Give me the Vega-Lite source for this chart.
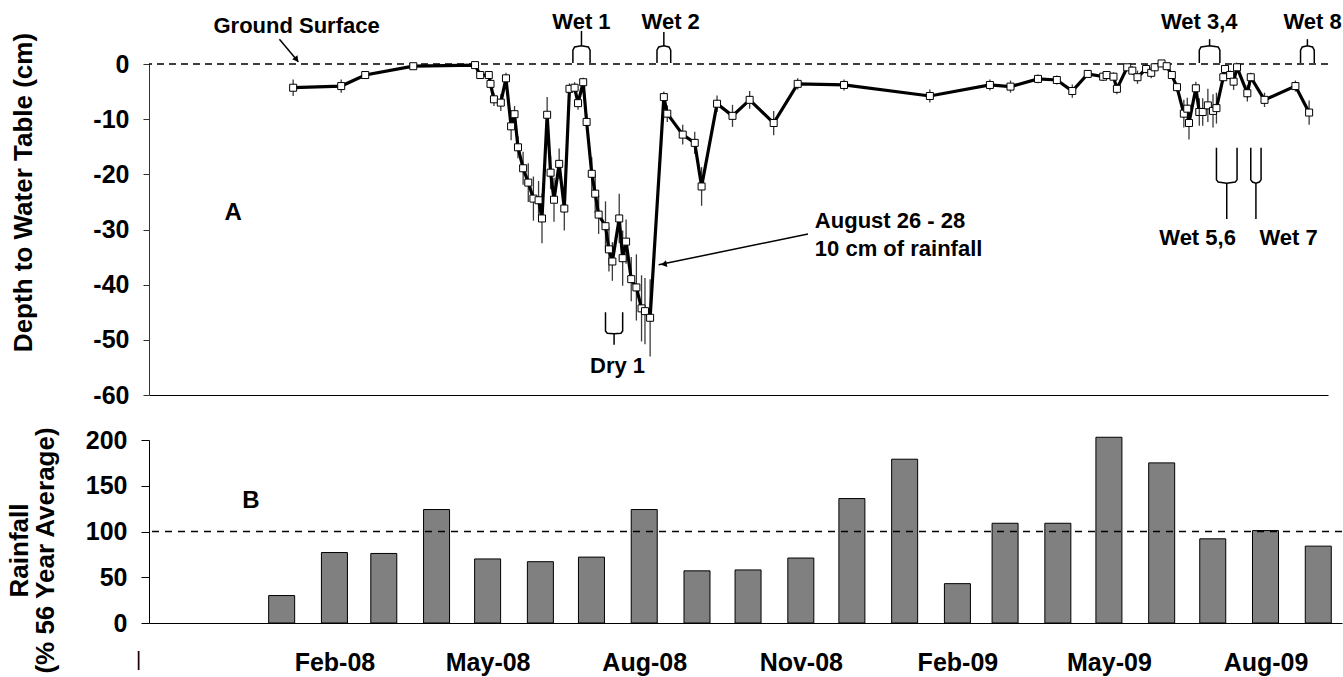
{
  "$schema": "https://vega.github.io/schema/vega-lite/v6.json",
  "autosize": {"type": "none"},
  "padding": {"left": 149, "top": 64, "right": 1194, "bottom": 613},
  "background": "white",
  "bounds": "flush",
  "spacing": 45,
  "config": {"view": {"stroke": null}, "font": "Liberation Sans"},
  "datasets": {
    "wt": [
      {"date": "2008-01-24", "depth": -4.3, "err": 1.5},
      {"date": "2008-02-21", "depth": -4.0, "err": 1.2},
      {"date": "2008-03-06", "depth": -2.0, "err": 0.6},
      {"date": "2008-04-03", "depth": -0.4, "err": 0.4},
      {"date": "2008-05-09", "depth": -0.2, "err": 0.4},
      {"date": "2008-05-12", "depth": -2.0, "err": 0.5},
      {"date": "2008-05-17", "depth": -2.0, "err": 0.6},
      {"date": "2008-05-18", "depth": -3.6, "err": 0.8},
      {"date": "2008-05-20", "depth": -6.4, "err": 1.2},
      {"date": "2008-05-24", "depth": -7.0, "err": 1.5},
      {"date": "2008-05-27", "depth": -2.6, "err": 1.0},
      {"date": "2008-05-30", "depth": -11.3, "err": 2.5},
      {"date": "2008-06-01", "depth": -9.1, "err": 1.5},
      {"date": "2008-06-03", "depth": -15.1, "err": 2.0},
      {"date": "2008-06-06", "depth": -18.9, "err": 3.0},
      {"date": "2008-06-09", "depth": -21.5, "err": 3.5},
      {"date": "2008-06-12", "depth": -24.4, "err": 4.0},
      {"date": "2008-06-15", "depth": -24.7, "err": 3.5},
      {"date": "2008-06-17", "depth": -28.0, "err": 4.5},
      {"date": "2008-06-20", "depth": -9.2, "err": 3.2},
      {"date": "2008-06-22", "depth": -19.7, "err": 3.0},
      {"date": "2008-06-24", "depth": -24.6, "err": 4.0},
      {"date": "2008-06-27", "depth": -18.1, "err": 2.8},
      {"date": "2008-06-30", "depth": -26.2, "err": 4.0},
      {"date": "2008-07-03", "depth": -4.5, "err": 1.0},
      {"date": "2008-07-06", "depth": -4.3, "err": 1.0},
      {"date": "2008-07-08", "depth": -7.1, "err": 1.2},
      {"date": "2008-07-11", "depth": -3.3, "err": 0.8},
      {"date": "2008-07-13", "depth": -10.5, "err": 1.5},
      {"date": "2008-07-16", "depth": -19.9, "err": 3.0},
      {"date": "2008-07-18", "depth": -23.5, "err": 3.5},
      {"date": "2008-07-20", "depth": -27.3, "err": 3.5},
      {"date": "2008-07-24", "depth": -29.4, "err": 4.5},
      {"date": "2008-07-26", "depth": -33.6, "err": 4.0},
      {"date": "2008-07-28", "depth": -35.8, "err": 3.5},
      {"date": "2008-08-01", "depth": -28.0, "err": 4.5},
      {"date": "2008-08-03", "depth": -35.2, "err": 5.0},
      {"date": "2008-08-05", "depth": -32.2, "err": 4.0},
      {"date": "2008-08-08", "depth": -39.0, "err": 4.0},
      {"date": "2008-08-11", "depth": -40.5, "err": 6.0},
      {"date": "2008-08-14", "depth": -44.3, "err": 6.0},
      {"date": "2008-08-16", "depth": -44.8, "err": 6.0},
      {"date": "2008-08-19", "depth": -46.0, "err": 7.0},
      {"date": "2008-08-27", "depth": -6.0, "err": 1.0},
      {"date": "2008-08-29", "depth": -9.0, "err": 1.5},
      {"date": "2008-09-07", "depth": -12.8, "err": 1.8},
      {"date": "2008-09-14", "depth": -14.3, "err": 2.0},
      {"date": "2008-09-18", "depth": -22.2, "err": 3.5},
      {"date": "2008-09-27", "depth": -7.2, "err": 1.5},
      {"date": "2008-10-06", "depth": -9.4, "err": 2.0},
      {"date": "2008-10-16", "depth": -6.5, "err": 1.6},
      {"date": "2008-10-30", "depth": -10.7, "err": 2.2},
      {"date": "2008-11-13", "depth": -3.6, "err": 1.0},
      {"date": "2008-12-10", "depth": -3.8, "err": 1.0},
      {"date": "2009-01-29", "depth": -5.8, "err": 1.2},
      {"date": "2009-03-05", "depth": -3.8, "err": 1.0},
      {"date": "2009-03-17", "depth": -4.1, "err": 1.1},
      {"date": "2009-04-02", "depth": -2.7, "err": 0.8},
      {"date": "2009-04-13", "depth": -2.9, "err": 0.8},
      {"date": "2009-04-22", "depth": -4.9, "err": 1.2},
      {"date": "2009-05-01", "depth": -1.8, "err": 0.5},
      {"date": "2009-05-10", "depth": -2.3, "err": 0.8},
      {"date": "2009-05-12", "depth": -2.0, "err": 0.6},
      {"date": "2009-05-16", "depth": -2.3, "err": 0.8},
      {"date": "2009-05-18", "depth": -4.5, "err": 1.0},
      {"date": "2009-05-24", "depth": -0.6, "err": 0.5},
      {"date": "2009-05-27", "depth": -1.2, "err": 0.8},
      {"date": "2009-05-30", "depth": -2.4, "err": 1.2},
      {"date": "2009-06-04", "depth": -0.9, "err": 0.8},
      {"date": "2009-06-07", "depth": -1.6, "err": 1.0},
      {"date": "2009-06-09", "depth": -0.6, "err": 0.5},
      {"date": "2009-06-13", "depth": 0.1, "err": 0.4},
      {"date": "2009-06-16", "depth": -0.4, "err": 0.5},
      {"date": "2009-06-19", "depth": -2.0, "err": 0.6},
      {"date": "2009-06-22", "depth": -4.2, "err": 0.8},
      {"date": "2009-06-26", "depth": -9.0, "err": 2.5},
      {"date": "2009-06-28", "depth": -8.1, "err": 2.0},
      {"date": "2009-06-29", "depth": -10.7, "err": 3.0},
      {"date": "2009-07-03", "depth": -4.4, "err": 1.2},
      {"date": "2009-07-05", "depth": -8.7, "err": 2.5},
      {"date": "2009-07-07", "depth": -8.7, "err": 2.5},
      {"date": "2009-07-10", "depth": -7.5, "err": 3.0},
      {"date": "2009-07-13", "depth": -8.5, "err": 3.0},
      {"date": "2009-07-15", "depth": -8.0, "err": 2.8},
      {"date": "2009-07-19", "depth": -2.4, "err": 0.8},
      {"date": "2009-07-20", "depth": -0.9, "err": 0.5},
      {"date": "2009-07-23", "depth": -2.0, "err": 0.8},
      {"date": "2009-07-25", "depth": -3.2, "err": 1.5},
      {"date": "2009-07-27", "depth": -0.6, "err": 0.5},
      {"date": "2009-08-02", "depth": -5.3, "err": 1.5},
      {"date": "2009-08-04", "depth": -2.4, "err": 0.8},
      {"date": "2009-08-12", "depth": -6.5, "err": 1.3},
      {"date": "2009-08-30", "depth": -4.0, "err": 1.0},
      {"date": "2009-09-07", "depth": -8.8, "err": 2.2}
    ],
    "brk": [
      {"g": "w1", "i": 0, "date": "2008-07-05", "depth": 0.2},
      {"g": "w1", "i": 1, "date": "2008-07-05", "depth": 2.5},
      {"g": "w1", "i": 2, "date": "2008-07-06", "depth": 3.1},
      {"g": "w1", "i": 3, "date": "2008-07-10", "depth": 3.3},
      {"g": "w1", "i": 4, "date": "2008-07-14", "depth": 3.1},
      {"g": "w1", "i": 5, "date": "2008-07-15", "depth": 2.5},
      {"g": "w1", "i": 6, "date": "2008-07-15", "depth": 0.2},
      {"g": "w1s", "i": 0, "date": "2008-07-10", "depth": 3.3},
      {"g": "w1s", "i": 1, "date": "2008-07-10", "depth": 6.0},
      {"g": "w2", "i": 0, "date": "2008-08-23", "depth": 0.2},
      {"g": "w2", "i": 1, "date": "2008-08-23", "depth": 2.5},
      {"g": "w2", "i": 2, "date": "2008-08-24", "depth": 3.1},
      {"g": "w2", "i": 3, "date": "2008-08-27", "depth": 3.3},
      {"g": "w2", "i": 4, "date": "2008-08-30", "depth": 3.1},
      {"g": "w2", "i": 5, "date": "2008-08-31", "depth": 2.5},
      {"g": "w2", "i": 6, "date": "2008-08-31", "depth": 0.2},
      {"g": "w2s", "i": 0, "date": "2008-08-27", "depth": 3.3},
      {"g": "w2s", "i": 1, "date": "2008-08-27", "depth": 5.8},
      {"g": "w34", "i": 0, "date": "2009-07-05", "depth": 0.2},
      {"g": "w34", "i": 1, "date": "2009-07-05", "depth": 2.5},
      {"g": "w34", "i": 2, "date": "2009-07-06", "depth": 3.1},
      {"g": "w34", "i": 3, "date": "2009-07-11", "depth": 3.3},
      {"g": "w34", "i": 4, "date": "2009-07-16", "depth": 3.1},
      {"g": "w34", "i": 5, "date": "2009-07-17", "depth": 2.5},
      {"g": "w34", "i": 6, "date": "2009-07-17", "depth": 0.2},
      {"g": "w34s", "i": 0, "date": "2009-07-11", "depth": 3.3},
      {"g": "w34s", "i": 1, "date": "2009-07-11", "depth": 4.5},
      {"g": "w8", "i": 0, "date": "2009-09-02", "depth": 0.2},
      {"g": "w8", "i": 1, "date": "2009-09-02", "depth": 2.5},
      {"g": "w8", "i": 2, "date": "2009-09-03", "depth": 3.1},
      {"g": "w8", "i": 3, "date": "2009-09-06", "depth": 3.3},
      {"g": "w8", "i": 4, "date": "2009-09-09", "depth": 3.1},
      {"g": "w8", "i": 5, "date": "2009-09-10", "depth": 2.5},
      {"g": "w8", "i": 6, "date": "2009-09-10", "depth": 0.2},
      {"g": "w8s", "i": 0, "date": "2009-09-06", "depth": 3.3},
      {"g": "w8s", "i": 1, "date": "2009-09-06", "depth": 4.5},
      {"g": "w56", "i": 0, "date": "2009-07-15", "depth": -15.2},
      {"g": "w56", "i": 1, "date": "2009-07-15", "depth": -21.0},
      {"g": "w56", "i": 2, "date": "2009-07-16", "depth": -21.4},
      {"g": "w56", "i": 3, "date": "2009-07-21", "depth": -21.6},
      {"g": "w56", "i": 4, "date": "2009-07-26", "depth": -21.4},
      {"g": "w56", "i": 5, "date": "2009-07-27", "depth": -21.0},
      {"g": "w56", "i": 6, "date": "2009-07-27", "depth": -15.2},
      {"g": "w56s", "i": 0, "date": "2009-07-21", "depth": -21.6},
      {"g": "w56s", "i": 1, "date": "2009-07-21", "depth": -28.1},
      {"g": "w7", "i": 0, "date": "2009-08-04", "depth": -15.2},
      {"g": "w7", "i": 1, "date": "2009-08-04", "depth": -21.0},
      {"g": "w7", "i": 2, "date": "2009-08-05", "depth": -21.4},
      {"g": "w7", "i": 3, "date": "2009-08-07", "depth": -21.6},
      {"g": "w7", "i": 4, "date": "2009-08-09", "depth": -21.4},
      {"g": "w7", "i": 5, "date": "2009-08-10", "depth": -21.0},
      {"g": "w7", "i": 6, "date": "2009-08-10", "depth": -15.2},
      {"g": "w7s", "i": 0, "date": "2009-08-07", "depth": -21.6},
      {"g": "w7s", "i": 1, "date": "2009-08-07", "depth": -28.1},
      {"g": "d1", "i": 0, "date": "2008-07-24", "depth": -45.0},
      {"g": "d1", "i": 1, "date": "2008-07-24", "depth": -48.4},
      {"g": "d1", "i": 2, "date": "2008-07-25", "depth": -48.8},
      {"g": "d1", "i": 3, "date": "2008-07-29", "depth": -48.9},
      {"g": "d1", "i": 4, "date": "2008-08-02", "depth": -48.8},
      {"g": "d1", "i": 5, "date": "2008-08-03", "depth": -48.4},
      {"g": "d1", "i": 6, "date": "2008-08-03", "depth": -45.0},
      {"g": "d1s", "i": 0, "date": "2008-07-29", "depth": -48.9},
      {"g": "d1s", "i": 1, "date": "2008-07-29", "depth": -50.9},
      {"g": "gs", "i": 0, "date": "2008-01-16", "depth": 4.5},
      {"g": "gs", "i": 1, "date": "2008-01-27", "depth": 0.4},
      {"g": "aug", "i": 0, "date": "2008-11-19", "depth": -30.8},
      {"g": "aug", "i": 1, "date": "2008-08-24", "depth": -36.4}
    ],
    "txtc": [
      {"label": "Ground Surface", "date": "2008-01-26", "depth": 6.8},
      {"label": "Wet 1", "date": "2008-07-10", "depth": 7.6},
      {"label": "Wet 2", "date": "2008-08-31", "depth": 7.6},
      {"label": "Wet 3,4", "date": "2009-07-05", "depth": 7.6},
      {"label": "Wet 8", "date": "2009-09-09", "depth": 7.6},
      {"label": "Wet 5,6", "date": "2009-07-04", "depth": -31.5},
      {"label": "Wet 7", "date": "2009-08-26", "depth": -31.5},
      {"label": "Dry 1", "date": "2008-07-31", "depth": -54.7}
    ],
    "txtA": [
      {"label": "A", "date": "2007-12-20", "depth": -27.0}
    ],
    "txtl": [
      {"label": "August 26 - 28", "date": "2008-11-23", "depth": -28.5},
      {"label": "10 cm of rainfall", "date": "2008-11-23", "depth": -33.5}
    ],
    "rain": [
      {"date": "2008-01-15", "pct": 30},
      {"date": "2008-02-15", "pct": 77},
      {"date": "2008-03-15", "pct": 76},
      {"date": "2008-04-15", "pct": 124},
      {"date": "2008-05-15", "pct": 70},
      {"date": "2008-06-15", "pct": 67},
      {"date": "2008-07-15", "pct": 72},
      {"date": "2008-08-15", "pct": 124},
      {"date": "2008-09-15", "pct": 57},
      {"date": "2008-10-15", "pct": 58},
      {"date": "2008-11-15", "pct": 71},
      {"date": "2008-12-15", "pct": 136},
      {"date": "2009-01-15", "pct": 179},
      {"date": "2009-02-15", "pct": 43},
      {"date": "2009-03-15", "pct": 109},
      {"date": "2009-04-15", "pct": 109},
      {"date": "2009-05-15", "pct": 203},
      {"date": "2009-06-15", "pct": 175},
      {"date": "2009-07-15", "pct": 92},
      {"date": "2009-08-15", "pct": 101},
      {"date": "2009-09-15", "pct": 84}
    ],
    "rtxt": [
      {"label": "B", "date": "2007-12-28", "pct": 133}
    ],
    "bar": [
      {"label": "|", "date": "2007-10-23", "pct": -40}
    ]
  },
  "vconcat": [
    {
      "width": 1179,
      "height": 331,
      "layer": [
        {
          "data": {"name": "wt"},
          "mark": {"type": "errorbar", "color": "#3a3a3a", "thickness": 1.3},
          "encoding": {
            "x": {
              "field": "date", "type": "temporal",
              "scale": {"type": "utc", "nice": false, "domain": [{"year": 2007, "month": 11, "date": 1, "utc": true}, {"year": 2009, "month": 9, "date": 18, "utc": true}]},
              "axis": {"domain": true, "domainColor": "black", "domainWidth": 1, "ticks": false, "labels": false, "grid": false, "title": null}
            },
            "y": {
              "field": "depth", "type": "quantitative",
              "scale": {"domain": [-60, 0], "nice": false, "zero": false},
              "axis": {
                "values": [-60, -50, -40, -30, -20, -10, 0], "grid": false,
                "labelExpr": "'' + datum.value",
                "domainColor": "#333", "tickColor": "#333", "tickSize": 6, "labelPadding": 14,
                "labelFontSize": 25, "labelFontWeight": "bold", "labelColor": "black",
                "title": "Depth to Water Table (cm)", "titleFontSize": 26, "titleFontWeight": "bold", "titleColor": "black",
                "titleAngle": -90, "titleX": -126, "titleY": 128, "titleAlign": "center", "titleBaseline": "middle"
              }
            },
            "yError": {"field": "err"}
          }
        },
        {
          "data": {"values": [{}]},
          "mark": {"type": "rule", "color": "black", "strokeWidth": 1.3, "strokeDash": [7, 5]},
          "encoding": {"y": {"datum": 0, "type": "quantitative"}}
        },
        {
          "data": {"name": "wt"},
          "mark": {"type": "line", "color": "black", "strokeWidth": 3.2},
          "encoding": {
            "x": {"field": "date", "type": "temporal"},
            "y": {"field": "depth", "type": "quantitative"}
          }
        },
        {
          "data": {"name": "wt"},
          "mark": {"type": "point", "shape": "square", "filled": true, "fill": "white", "stroke": "black", "strokeWidth": 1, "size": 49, "opacity": 1},
          "encoding": {
            "x": {"field": "date", "type": "temporal"},
            "y": {"field": "depth", "type": "quantitative"}
          }
        },
        {
          "data": {"name": "brk"},
          "mark": {"type": "line", "color": "black", "strokeWidth": 1.5},
          "encoding": {
            "x": {"field": "date", "type": "temporal"},
            "y": {"field": "depth", "type": "quantitative"},
            "detail": {"field": "g"},
            "order": {"field": "i", "type": "quantitative"}
          }
        },
        {
          "data": {"values": [{"date": "2008-01-26", "depth": 0.8}]},
          "mark": {"type": "point", "shape": "triangle-up", "filled": true, "color": "black", "size": 45, "angle": 142, "opacity": 1},
          "encoding": {
            "x": {"field": "date", "type": "temporal"},
            "y": {"field": "depth", "type": "quantitative"}
          }
        },
        {
          "data": {"values": [{"date": "2008-08-27", "depth": -36.3}]},
          "mark": {"type": "point", "shape": "triangle-up", "filled": true, "color": "black", "size": 45, "angle": 258, "opacity": 1},
          "encoding": {
            "x": {"field": "date", "type": "temporal"},
            "y": {"field": "depth", "type": "quantitative"}
          }
        },
        {
          "data": {"name": "txtc"},
          "mark": {"type": "text", "fontSize": 22, "fontWeight": "bold", "color": "black", "align": "center", "baseline": "middle"},
          "encoding": {
            "x": {"field": "date", "type": "temporal"},
            "y": {"field": "depth", "type": "quantitative"},
            "text": {"field": "label"}
          }
        },
        {
          "data": {"name": "txtA"},
          "mark": {"type": "text", "fontSize": 24, "fontWeight": "bold", "color": "black", "align": "center", "baseline": "middle"},
          "encoding": {
            "x": {"field": "date", "type": "temporal"},
            "y": {"field": "depth", "type": "quantitative"},
            "text": {"field": "label"}
          }
        },
        {
          "data": {"name": "txtl"},
          "mark": {"type": "text", "fontSize": 22, "fontWeight": "bold", "color": "black", "align": "left", "baseline": "middle"},
          "encoding": {
            "x": {"field": "date", "type": "temporal"},
            "y": {"field": "depth", "type": "quantitative"},
            "text": {"field": "label"}
          }
        }
      ]
    },
    {
      "width": 1193,
      "height": 183,
      "layer": [
        {
          "data": {"name": "rain"},
          "mark": {"type": "bar", "color": "#808080", "stroke": "black", "strokeWidth": 1, "size": 26},
          "encoding": {
            "x": {
              "field": "date", "type": "temporal",
              "scale": {"type": "utc", "nice": false, "domain": [{"year": 2007, "month": 11, "date": 1, "utc": true}, {"year": 2009, "month": 9, "date": 26, "utc": true}]},
              "axis": {
                "values": [
                  {"year": 2008, "month": 2, "date": 15, "utc": true},
                  {"year": 2008, "month": 5, "date": 15, "utc": true},
                  {"year": 2008, "month": 8, "date": 15, "utc": true},
                  {"year": 2008, "month": 11, "date": 15, "utc": true},
                  {"year": 2009, "month": 2, "date": 15, "utc": true},
                  {"year": 2009, "month": 5, "date": 15, "utc": true},
                  {"year": 2009, "month": 8, "date": 15, "utc": true}
                ],
                "labelExpr": "utcFormat(datum.value, '%b-%y')",
                "ticks": false, "grid": false, "domainColor": "black", "domainWidth": 1.2,
                "labelPadding": 27, "labelFontSize": 25, "labelFontWeight": "bold", "labelColor": "black",
                "labelOverlap": false, "labelFlush": false, "title": null
              }
            },
            "y": {
              "field": "pct", "type": "quantitative",
              "scale": {"domain": [0, 200], "nice": false},
              "axis": {
                "values": [0, 50, 100, 150, 200], "grid": false,
                "labelExpr": "'' + datum.value",
                "domainColor": "black", "tickColor": "black", "tickSize": 8, "labelPadding": 14,
                "labelFontSize": 25, "labelFontWeight": "bold", "labelColor": "black",
                "title": ["Rainfall", "(% 56 Year Average)"], "titleFontSize": 26, "titleFontWeight": "bold", "titleColor": "black",
                "titleAngle": -90, "titleX": -130, "titleY": 110, "titleAlign": "center", "titleBaseline": "middle", "titleLineHeight": 26
              }
            }
          }
        },
        {
          "data": {"values": [{}]},
          "mark": {"type": "rule", "color": "black", "strokeWidth": 1.3, "strokeDash": [7, 6]},
          "encoding": {"y": {"datum": 100, "type": "quantitative"}}
        },
        {
          "data": {"name": "rtxt"},
          "mark": {"type": "text", "fontSize": 24, "fontWeight": "bold", "color": "black", "align": "center", "baseline": "middle"},
          "encoding": {
            "x": {"field": "date", "type": "temporal"},
            "y": {"field": "pct", "type": "quantitative"},
            "text": {"field": "label"}
          }
        },
        {
          "data": {"name": "bar"},
          "mark": {"type": "text", "fontSize": 20, "color": "black", "align": "center", "baseline": "middle"},
          "encoding": {
            "x": {"field": "date", "type": "temporal"},
            "y": {"field": "pct", "type": "quantitative"},
            "text": {"field": "label"}
          }
        }
      ]
    }
  ]
}
